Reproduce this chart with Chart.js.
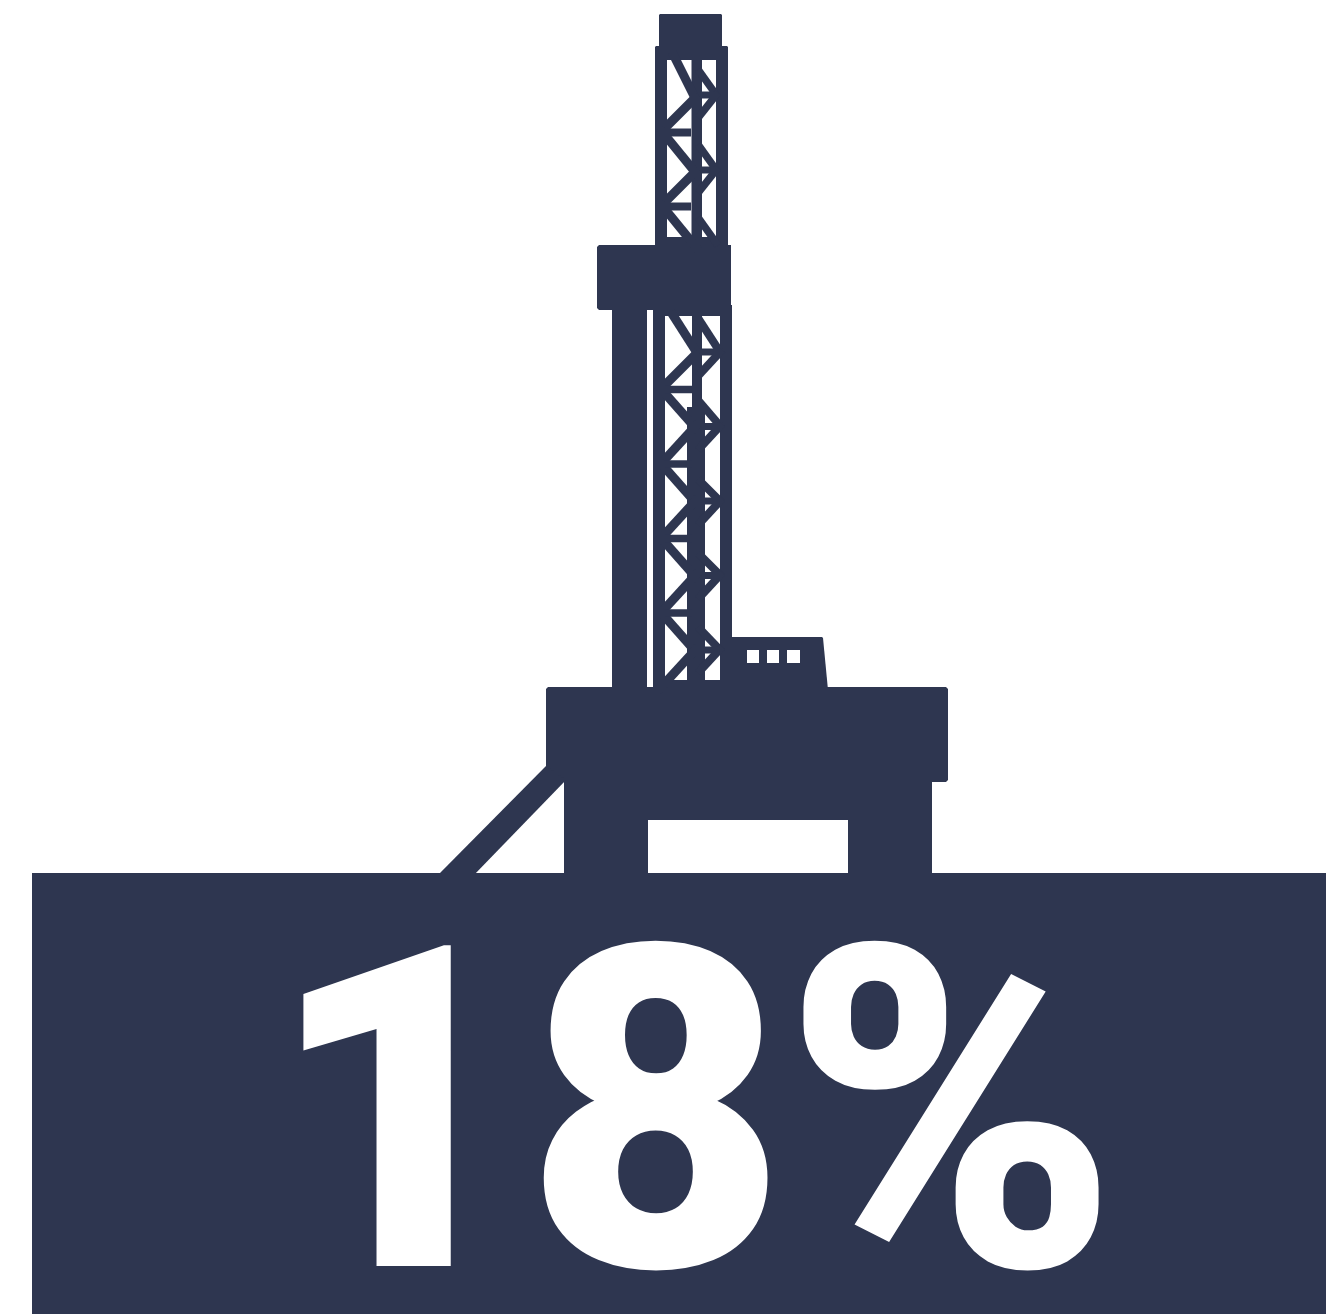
<!DOCTYPE html>
<html><head><meta charset="utf-8">
<style>html,body{margin:0;padding:0;background:#fff}canvas{display:block}</style>
<script src="https://cdn.jsdelivr.net/npm/chart.js@4/dist/chart.umd.min.js"></script>
</head><body><canvas id="c" width="1326" height="1314" style="width:1326px;height:1314px"></canvas>
<script>
const shareLabel = ["18%"];
const shareLabelAnchor = [[691, 1266]];
const inkColor = "#2E3650";
const paperColor = "#FFFFFF";

const groundBand = [[32,873],[1326,873],[1326,1314],[32,1314]];
const crownCap = [[659,15],[660,14],[721,14],[722,15],[722,47],[659,47]];
const upperMast = [[655,47],[656,46],[727,46],[728,47],[728,246],[655,246]];
const midDeck = [[597,247],[599,245],[731,245],[731,308],[729,310],[599,310],[597,308]];
const lowerMast = [[653,305],[732,305],[732,690],[653,690]];
const leftColumn = [[612,305],[647,305],[647,690],[612,690]];
const cabin = [[730,637],[822,637],[823,638],[828,690],[730,690]];
const mainDeck = [[546,689],[548,687],[946,687],[948,689],[948,780],[946,782],[548,782],[546,780]];
const legs = [[564,780],[932,780],[932,875],[848,875],[848,820],[648,820],[648,875],[564,875]];
const brace = [[546,766],[566,780],[474,875],[438,875]];
const solidShapes = [groundBand, crownCap, upperMast, midDeck, lowerMast, leftColumn, cabin, mainDeck, legs, brace];

const upperLeftPanel = [[667,60],[691.5,60],[691.5,237],[667,237]];
const upperRightPanel = [[702,60],[716,60],[716,237],[702,237]];
const lowerLeftPanel = [[665,316],[692,316],[692,407],[687,407],[687,680],[665,680]];
const lowerRightPanel = [[702,316],[720,316],[720,680],[705,680],[705,407],[702,407]];
const windowA = [[747,650],[759,650],[759,663],[747,663]];
const windowB = [[767,650],[779,650],[779,663],[767,663]];
const windowC = [[787,650],[800,650],[800,663],[787,663]];
const openShapes = [upperLeftPanel, upperRightPanel, lowerLeftPanel, lowerRightPanel, windowA, windowB, windowC];

const upperLeftDiagonals = [
  [[672,52],[696,100]], [[660,133],[698,95]],
  [[660,129],[698,175.6]], [[660,207],[698,169]],
  [[660,203],[698,249.6]]
];
const upperLeftRungs = [
  [[667,132.5],[691,132.5]], [[667,206.5],[691,206.5]]
];
const upperRightDiagonals = [
  [[698,69.4],[718,97.4]], [[718,92.7],[698,118]],
  [[698,144.4],[718,172.4]], [[718,167.7],[698,193]],
  [[698,217.4],[718,245.4]]
];
const upperRightRungs = [
  [[702,95],[716,95]], [[702,170],[716,170]]
];
const lowerLeftDiagonals = [
  [[671,312],[698,354.4]], [[658,392],[698,352]],
  [[658,385.5],[698,430.7]], [[658,467],[698,423.4]],
  [[658,460],[698,505.2]], [[658,541.6],[698,498]],
  [[658,534.5],[698,579.7]], [[658,616],[698,572.4]],
  [[658,609],[698,654.2]], [[658,690.6],[698,647]]
];
const lowerLeftRungs = [
  [[665,389.5],[692,389.5]], [[665,464],[692,464]], [[665,538.5],[692,538.5]], [[665,613],[692,613]]
];
const lowerRightDiagonals = [
  [[698,318],[722,355]], [[722,350],[698,376]],
  [[698,400],[722,428]], [[722,424],[698,450]],
  [[698,479],[722,503]], [[722,499],[698,525]],
  [[698,553],[722,577]], [[722,573],[698,599]],
  [[698,627],[722,652]], [[722,647],[698,673]]
];
const lowerRightRungs = [
  [[702,352],[720,352]], [[702,426.5],[720,426.5]], [[702,501],[720,501]], [[702,575.5],[720,575.5]], [[702,650],[720,650]]
];
const strutGroups = [
  {segments: upperLeftDiagonals, weight: 9},
  {segments: upperLeftRungs, weight: 8},
  {segments: upperRightDiagonals, weight: 7.5},
  {segments: upperRightRungs, weight: 7},
  {segments: lowerLeftDiagonals, weight: 9},
  {segments: lowerLeftRungs, weight: 7.5},
  {segments: lowerRightDiagonals, weight: 8},
  {segments: lowerRightRungs, weight: 7}
];
const toPts = a => a.map(p => ({x:p[0], y:p[1]}));
const polyDs = (pts, color) => ({
  data: toPts(pts.concat([pts[0]])), showLine:true, fill:'shape',
  backgroundColor:color, borderColor:color, borderWidth:0, pointRadius:0, tension:0
});
const datasets = [];
solidShapes.forEach(s => datasets.push(polyDs(s, inkColor)));
openShapes.forEach(s => datasets.push(polyDs(s, paperColor)));
strutGroups.forEach(g => g.segments.forEach(seg => datasets.push({
  data: toPts(seg), showLine:true, fill:false, borderColor:inkColor,
  borderWidth:g.weight, pointRadius:0, borderCapStyle:'butt', tension:0
})));
// Struts may poke past a mast's outer edge only into solid ink, so repaint nothing else.
datasets.forEach((d,i) => { d.order = datasets.length - i; });

const shareText = {
  id:'shareText',
  afterDatasetsDraw(chart){
    const {ctx, scales:{x,y}} = chart;
    ctx.save();
    ctx.fillStyle = paperColor;
    ctx.font = '900 451px Roboto';
    ctx.letterSpacing = '-3px';
    ctx.textAlign = 'center';
    ctx.textBaseline = 'alphabetic';
    ctx.fillText(shareLabel[0], x.getPixelForValue(shareLabelAnchor[0][0]), y.getPixelForValue(shareLabelAnchor[0][1]));
    ctx.restore();
  }
};

new Chart(document.getElementById('c'), {
  type:'scatter',
  data:{datasets},
  plugins:[shareText],
  options:{
    responsive:false, animation:false, devicePixelRatio:1,
    layout:{padding:0},
    plugins:{legend:{display:false}, tooltip:{enabled:false}, title:{display:false}},
    scales:{
      x:{type:'linear', min:0, max:1326, display:false},
      y:{type:'linear', min:0, max:1314, reverse:true, display:false}
    }
  }
});
</script></body></html>
